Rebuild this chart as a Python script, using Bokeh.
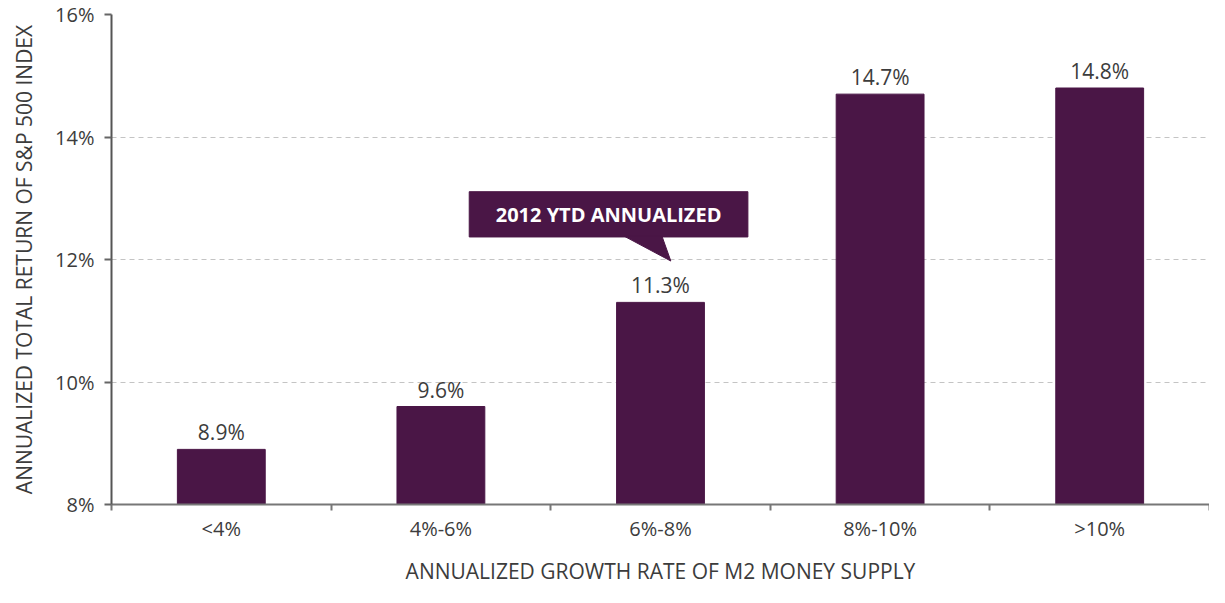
from bokeh.plotting import figure
from bokeh.models import FixedTicker, Range1d, Label
from bokeh.core.properties import value
from bokeh.embed import file_html
from bokeh.resources import INLINE

categories = ["<4%", "4%-6%", "6%-8%", "8%-10%", ">10%"]
returns = [8.9, 9.6, 11.3, 14.7, 14.8]
y_ticks = [8, 10, 12, 14, 16]
y_tick_labels = ["8%", "10%", "12%", "14%", "16%"]
callout_text = "2012 YTD ANNUALIZED"
callout_index = 2

BAR = "#4a1646"
FONT = "Open Sans"
TXT = "#3c3c3c"

xs = [i + 0.5 for i in range(len(categories))]
value_labels = [f"{v:.1f}%" for v in returns]

p = figure(width=1209, height=587, output_backend="svg", toolbar_location=None,
           x_range=Range1d(0, len(categories)), y_range=Range1d(8, 16))
p.min_border_left = 111
p.min_border_right = 0
p.min_border_top = 14
p.min_border_bottom = 6
p.outline_line_color = None
p.background_fill_color = "white"
p.border_fill_color = "white"

p.vbar(x=xs, top=returns, bottom=8, width=0.4, fill_color=BAR, line_color=BAR)
p.text(x=xs, y=returns, text=value_labels, text_align="center", text_baseline="bottom",
       y_offset=-3, text_font=value(FONT), text_font_size="21px", text_color=TXT)

# callout
cx = xs[callout_index]
bx0, bx1 = cx - 0.871, cx + 0.398
by0, by1 = 12.368, 13.107
p.quad(left=[bx0], right=[bx1], bottom=[by0], top=[by1], fill_color=BAR, line_color=BAR)
p.patch(x=[cx - 0.164, cx + 0.007, cx + 0.047], y=[by0 + 0.01, by0 + 0.01, 11.975],
        fill_color=BAR, line_color=BAR)
p.add_layout(Label(x=(bx0 + bx1) / 2, y=(by0 + by1) / 2, text=callout_text,
                   text_align="center", text_baseline="middle", text_color="white",
                   text_font=FONT, text_font_size="20px", text_font_style="bold"))

# axes
p.xaxis.ticker = FixedTicker(ticks=xs, minor_ticks=list(range(len(categories) + 1)))
p.xaxis.major_label_overrides = {x: c for x, c in zip(xs, categories)}
p.xaxis.major_tick_out = 0
p.xaxis.major_tick_in = 0
p.xaxis.minor_tick_out = 6
p.xaxis.minor_tick_in = 0
p.xaxis.minor_tick_line_color = "#777777"
p.xaxis.minor_tick_line_width = 2
p.xaxis.axis_line_color = "#777777"
p.xaxis.axis_line_width = 2
p.xaxis.major_label_standoff = 4
p.xaxis.major_label_text_font = FONT
p.xaxis.major_label_text_font_size = "20px"
p.xaxis.major_label_text_color = TXT
p.xaxis.axis_label = "ANNUALIZED GROWTH RATE OF M2 MONEY SUPPLY"
p.xaxis.axis_label_text_font = FONT
p.xaxis.axis_label_text_font_size = "21px"
p.xaxis.axis_label_text_font_style = "normal"
p.xaxis.axis_label_text_color = TXT
p.xaxis.axis_label_standoff = 12

p.yaxis.ticker = FixedTicker(ticks=y_ticks)
p.yaxis.major_label_overrides = {t: l for t, l in zip(y_ticks, y_tick_labels)}
p.yaxis.minor_tick_line_color = None
p.yaxis.major_tick_out = 7
p.yaxis.major_tick_in = 0
p.yaxis.major_tick_line_color = "#666666"
p.yaxis.major_tick_line_width = 2
p.yaxis.axis_line_color = "#555555"
p.yaxis.axis_line_width = 2
p.yaxis.major_label_standoff = 10
p.yaxis.major_label_text_font = FONT
p.yaxis.major_label_text_font_size = "20px"
p.yaxis.major_label_text_color = TXT
p.yaxis.axis_label = "ANNUALIZED TOTAL RETURN OF S&P 500 INDEX"
p.yaxis.axis_label_text_font = FONT
p.yaxis.axis_label_text_font_size = "21px"
p.yaxis.axis_label_text_font_style = "normal"
p.yaxis.axis_label_text_color = TXT
p.yaxis.axis_label_standoff = 14

p.xgrid.grid_line_color = None
p.ygrid.ticker = FixedTicker(ticks=y_ticks[1:])
p.ygrid.grid_line_color = "#c4c4c4"
p.ygrid.grid_line_dash = "5 4"
p.ygrid.grid_line_width = 1

open("out.html", "w").write(file_html(p, INLINE))
